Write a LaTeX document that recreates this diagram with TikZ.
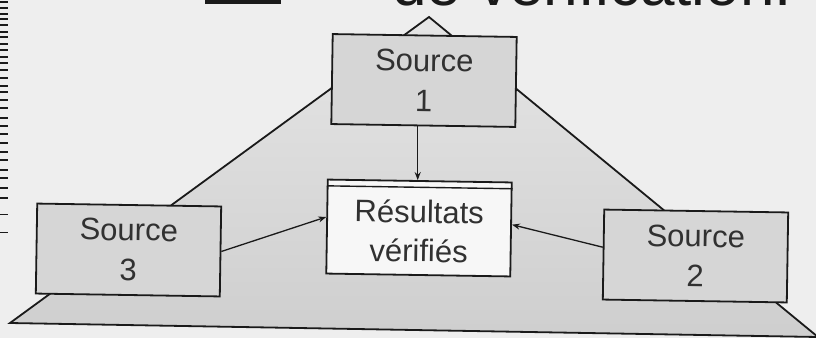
\documentclass[tikz,border=0pt]{standalone}
\usepackage{fontspec}
\setmainfont{Liberation Sans}
\usetikzlibrary{arrows.meta,calc}

\definecolor{paper}{HTML}{EEEEEE}
\definecolor{boxgray}{HTML}{D6D6D6}
\definecolor{resfill}{HTML}{F7F7F7}
\definecolor{ink}{HTML}{1A1A1A}

\tikzset{
  srcbox/.style={draw=ink, line width=1.8pt, fill=boxgray, rotate=-0.9,
    minimum width=184pt, minimum height=90pt, inner sep=0pt, align=center,
    font=\fontsize{31}{40}\selectfont, text=ink!90},
  resbox/.style={draw=ink, line width=1.8pt, fill=resfill, rotate=-0.9,
    minimum width=184pt, minimum height=94pt, inner sep=0pt, align=center,
    font=\fontsize{31}{39}\selectfont, text=ink!90},
  arr/.style={draw=ink, line width=1.3pt, -{Stealth[length=8pt,width=6pt]}},
}

\begin{document}
\begin{tikzpicture}[x=1pt,y=-1pt]
  \useasboundingbox (0,0) rectangle (816,338);
  \clip (0,0) rectangle (816,338);
  \fill[paper] (0,0) rectangle (816,338);

  % binding marks along the left edge
  \foreach \yy/\ww in {2/2.2,8/1.6,14/2.2,19/1.4,25/2.0,32/1.6,37/2.2,44/1.4,
      50/2.0,57/1.6,63/2.0,70/1.4,78/1.8,86/1.6,92/2.0,100/1.4,108/1.8,
      118/1.4,126/1.8,134/1.4,143/1.6,152/1.4,160/1.6,170/1.2,178/1.4,
      188/1.2,198/1.3,214/1.0,232/1.0}
    \draw[ink, line width=\ww pt] (0,\yy) -- (8,\yy);

  % heading, cut by the top edge
  \fill[ink] (205,-2) rectangle (281,4);
  \node[anchor=base west, inner sep=0pt, text=ink,
        font=\fontsize{62}{62}\selectfont] (title) at (392,5) {de vérification.};

  % the pyramid
  \coordinate (apex) at (429,17);
  \coordinate (bl) at (10,323);
  \coordinate (br) at (818,337);
  \shade[top color=gray!20, bottom color=gray!38]
    (apex) -- (br) -- (bl) -- cycle;
  \draw[ink, line width=1.8pt, line join=miter] (apex) -- (br) -- (bl) -- cycle;

  % sources and result
  \node[srcbox] (s1) at (424,80.5) {Source\\1};
  \node[srcbox] (s3) at (128.5,250) {Source\\3};
  \node[srcbox] (s2) at (695.5,256) {Source\\2};
  \node[resbox] (res) at (419,228) {\\[-10pt]Résultats\\vérifiés};
  \draw[ink, line width=1.4pt]
    ($(res.north west)!0.075!(res.south west)$) --
    ($(res.north east)!0.075!(res.south east)$);

  % connectors
  \coordinate (s1out) at ($(s1.south west)!0.47!(s1.south east)$);
  \draw[arr] (s1out) -- (s1out |- res.north);
  \draw[arr] (s3.east) -- ($(res.north west)!0.4!(res.south west)$);
  \draw[arr] ($(s2.north west)!0.42!(s2.south west)$) --
             ($(res.north east)!0.45!(res.south east)$);
\end{tikzpicture}
\end{document}
